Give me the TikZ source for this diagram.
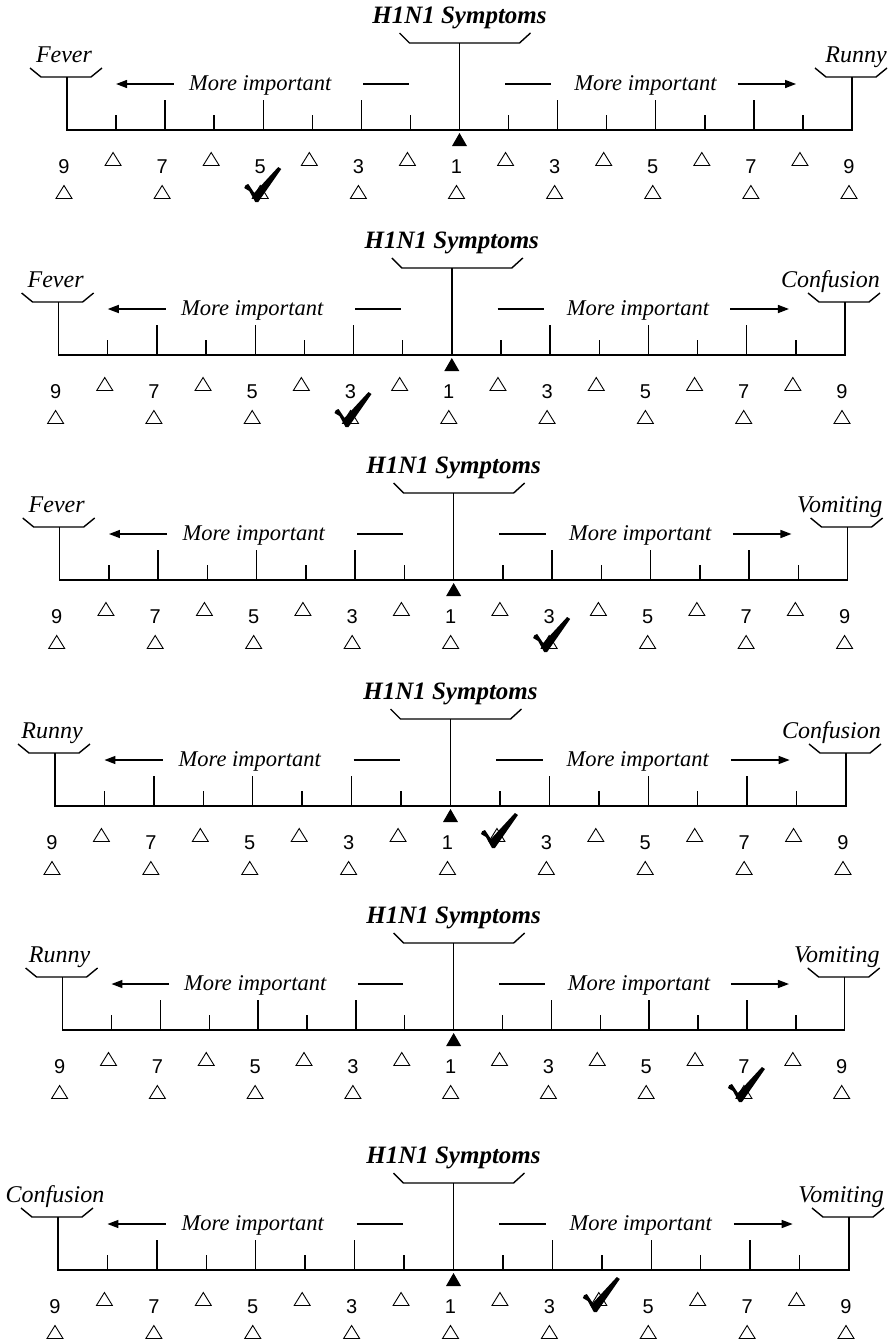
\documentclass[tikz,border=0pt]{standalone}
\usepackage{fontspec}
\setmainfont{Liberation Serif}
\newfontfamily\digitfont{Liberation Sans}
\usepackage{tikz}
\usetikzlibrary{arrows.meta}

\tikzset{
  rule/.style={line width=1.4pt},
  headline/.style={anchor=base,inner sep=0pt,font=\fontsize{25}{30}\selectfont\bfseries\itshape},
  endlabel/.style={inner sep=0pt,font=\fontsize{24}{28}\selectfont\itshape},
  notelabel/.style={anchor=base,inner sep=0pt,font=\fontsize{22.5}{27}\selectfont\itshape},
  digit/.style={anchor=base,inner sep=0pt,font=\digitfont\fontsize{20}{24}\selectfont},
  pointer/.style={rule,-{Triangle[length=11pt,width=8pt]}},
  pics/opentri/.style={code={
    \draw[line width=0.9pt,line join=miter] (-8,6.5) -- (8,6.5) -- (0,-6.5) -- cycle;}},
  pics/checkmark/.style={code={
    \fill (-13,-13) .. controls (-12,-16) .. (-9,-17) -- (-3,-8) -- (21,-34)
      -- (24,-32) -- (1,1) -- (-2,1) -- (-8,-10) .. controls (-10,-12) .. cycle;}}
}

% #1 axis level, #2/#3 ends of the scale, #4/#5 the compared symptoms,
% #6 position of the tick, #7 row of the tick
\newcommand{\scalepanel}[7]{%
\begin{scope}[shift={(0,#1)}]
  \pgfmathsetmacro{\panelL}{#2}
  \pgfmathsetmacro{\panelR}{#3}
  \pgfmathsetmacro{\panelS}{(\panelR-\panelL)/16}
  \pgfmathsetmacro{\panelC}{\panelL+8*\panelS}
  \coordinate (axisL) at (\panelL,0);
  \coordinate (axisR) at (\panelR,0);
  \coordinate (axisC) at (\panelC,0);
  \coordinate (topC) at (\panelC,-87);
  \coordinate (sideL) at (\panelL,-53);
  \coordinate (sideR) at (\panelR,-53);
  % axis, ends and middle post
  \draw[rule] (sideL) -- (axisL) -- (axisR) -- (sideR);
  \draw[rule] (topC) -- (axisC);
  \foreach \i in {1,3,5,7,9,11,13,15}
    \draw[rule] (\panelL+\i*\panelS,0) -- ++(0,-15);
  \foreach \i in {2,4,6,10,12,14}
    \draw[rule] (\panelL+\i*\panelS,0) -- ++(0,-30);
  \fill (\panelC,3) -- (\panelC-7.5,16) -- (\panelC+7.5,16) -- cycle;
  % brackets
  \draw[rule] (\panelL-37,-62) -- (\panelL-26,-53) -- (\panelL+24,-53) -- (\panelL+35,-62);
  \draw[rule] (\panelR-37,-62) -- (\panelR-26,-53) -- (\panelR+24,-53) -- (\panelR+35,-62);
  \draw[rule] (\panelC-60,-97) -- (\panelC-50,-87) -- (\panelC+60,-87) -- (\panelC+71,-97);
  \node[headline] (head) at (\panelC,-107) {H1N1 Symptoms};
  \node[endlabel,anchor=base] (leftname) at (\panelL-3,-68) {#4};
  \node[endlabel,anchor=base east] (rightname) at (\panelR+35,-68) {#5};
  % direction row
  \draw[pointer] (\panelL+2.18*\panelS,-46) -- (\panelL+\panelS,-46);
  \node[notelabel] (moreL) at (\panelL+3.94*\panelS,-40) {More important};
  \draw[rule] (\panelL+6.04*\panelS,-46) -- (\panelL+6.97*\panelS,-46);
  \draw[rule] (\panelC+0.93*\panelS,-46) -- (\panelC+1.87*\panelS,-46);
  \node[notelabel] (moreR) at (\panelC+3.79*\panelS,-40) {More important};
  \draw[pointer] (\panelC+5.67*\panelS,-46) -- (\panelC+6.86*\panelS,-46);
  % numbers and answer boxes
  \foreach \n [count=\k from 0] in {9,7,5,3,1,3,5,7,9} {
    \node[digit] (num\k) at (\panelL+2*\k*\panelS-3,43) {\n};
    \pic at (\panelL+2*\k*\panelS-3,62) {opentri};
  }
  \foreach \i in {1,3,5,7,9,11,13,15}
    \pic at (\panelL+\i*\panelS-3,29) {opentri};
  \pic at (\panelL+#6*\panelS-6,#7) {checkmark};
\end{scope}}

\begin{document}
\begin{tikzpicture}[x=1pt,y=-1pt]
\useasboundingbox (0,0) rectangle (892,1344);
\scalepanel{130}{67}{852}{Fever}{Runny}{4}{71}
\scalepanel{355}{58.6}{845}{Fever}{Confusion}{6}{71}
\scalepanel{580}{59.7}{847.6}{Fever}{Vomiting}{10}{71}
\scalepanel{806}{55}{846}{Runny}{Confusion}{9}{41}
\scalepanel{1030}{62.6}{844.7}{Runny}{Vomiting}{14}{71}
\scalepanel{1270}{58}{849}{Confusion}{Vomiting}{11}{41}
\end{tikzpicture}
\end{document}
